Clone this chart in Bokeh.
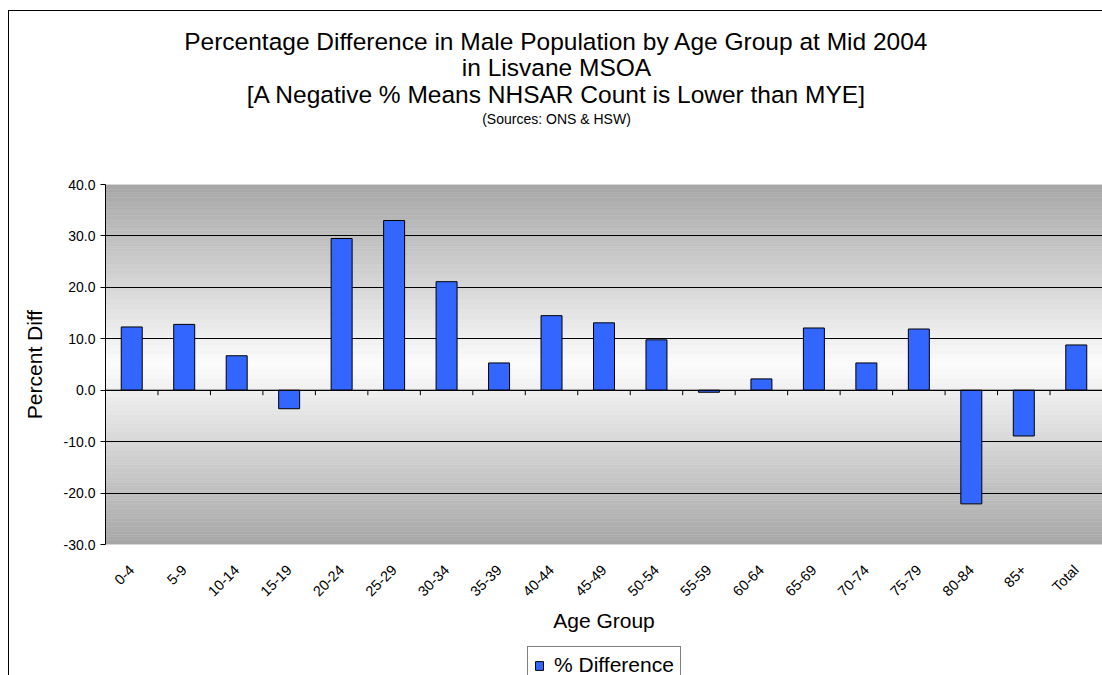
import math
import numpy as np
from bokeh.plotting import figure
from bokeh.layouts import column
from bokeh.models import (ColumnDataSource, FactorRange, Range1d, FixedTicker,
                          NumeralTickFormatter, Label, Legend, LegendItem, Span)
from bokeh.embed import file_html
from bokeh.resources import INLINE

# ---------------- data ----------------
age_groups = ["0-4", "5-9", "10-14", "15-19", "20-24", "25-29", "30-34", "35-39",
              "40-44", "45-49", "50-54", "55-59", "60-64", "65-69", "70-74", "75-79",
              "80-84", "85+", "Total"]
pct_diff = [12.3, 12.8, 6.7, -3.6, 29.5, 33.0, 21.1, 5.3, 14.5, 13.1, 9.8, -0.4,
            2.2, 12.1, 5.3, 11.9, -22.1, -8.9, 8.8]
y_ticks = [-30, -20, -10, 0, 10, 20, 30, 40]
title_lines = ["Percentage Difference in Male Population by Age Group at Mid 2004",
               "in Lisvane MSOA",
               "[A Negative % Means NHSAR Count is Lower than MYE]"]
source_note = "(Sources: ONS & HSW)"
series_name = "% Difference"
x_title = "Age Group"
y_title = "Percent Diff"

FONT = "Liberation Sans"
Y_MIN, Y_MAX = -30, 40
W = 1093
LEFT = 96          # left border of every block (frames are aligned in the column)
H_TITLE, H_MAIN, H_LEG = 119, 513, 32

src = ColumnDataSource(dict(x=age_groups, y=pct_diff))

# ---------------- title block ----------------
# x range in canvas pixels (frame spans LEFT..W because the column aligns frames)
tf = figure(width=W, height=H_TITLE, x_range=Range1d(LEFT, W), y_range=Range1d(H_TITLE, 0),
            output_backend="svg", toolbar_location=None,
            x_axis_location=None, y_axis_location=None,
            min_border=0, min_border_left=LEFT, outline_line_color=None)
tf.grid.visible = False
tf.background_fill_color = "white"
tf.border_fill_color = "white"
CENTER_X = 547
title_rows = [30, 56, 83]
for line, row in zip(title_lines, title_rows):
    tf.add_layout(Label(x=CENTER_X, y=row, text=line, text_align="center",
                        text_baseline="middle", text_font=FONT,
                        text_font_size="24.5px", text_color="black"))
tf.add_layout(Label(x=CENTER_X, y=107, text=source_note, text_align="center",
                    text_baseline="middle", text_font=FONT,
                    text_font_size="14px", text_color="black"))

# ---------------- main chart ----------------
p = figure(width=W, height=H_MAIN,
           x_range=FactorRange(factors=age_groups, range_padding=0),
           y_range=Range1d(Y_MIN, Y_MAX),
           output_backend="svg", toolbar_location=None,
           min_border_left=LEFT, min_border_right=0,
           min_border_top=54, min_border_bottom=99)
p.outline_line_color = None
p.background_fill_color = "white"
p.border_fill_color = "white"

# gradient plot-area background (grey -> white -> grey)
edges = np.linspace(Y_MIN, Y_MAX, 141)
mid = (Y_MIN + Y_MAX) / 2.0
half = (Y_MAX - Y_MIN) / 2.0
cols = []
for a, b in zip(edges[:-1], edges[1:]):
    d = abs((a + b) / 2.0 - mid) / half
    v = int(round(252 - (252 - 166) * d))
    cols.append("#%02x%02x%02x" % (v, v, v))
bg = ColumnDataSource(dict(bottom=edges[:-1], top=edges[1:], color=cols))
p.quad(left=0, right=len(age_groups), bottom="bottom", top="top",
       fill_color="color", line_color="color", line_width=0.5, source=bg,
       level="image")

# grid lines
p.xgrid.grid_line_color = None
p.ygrid.ticker = FixedTicker(ticks=y_ticks)
p.ygrid.grid_line_color = "black"
p.ygrid.grid_line_width = 1

# bars
bars = p.vbar(x="x", top="y", bottom=0, width=0.4, source=src,
              fill_color="#3366ff", line_color="black", line_width=1)

# zero axis line and category boundary ticks
p.add_layout(Span(location=0, dimension="width", line_color="black", line_width=1))
bound = ColumnDataSource(dict(x=list(range(1, len(age_groups))),
                              y=[0] * (len(age_groups) - 1)))
p.ray(x="x", y="y", length=5, length_units="screen", angle=-math.pi / 2,
      line_color="black", line_width=1, source=bound)

# y axis
ya = p.yaxis[0]
ya.ticker = FixedTicker(ticks=y_ticks)
ya.formatter = NumeralTickFormatter(format="0.0")
ya.axis_line_color = "black"
ya.major_tick_line_color = "black"
ya.major_tick_out = 5
ya.major_tick_in = 0
ya.minor_tick_line_color = None
ya.major_label_standoff = 5
ya.major_label_text_font = FONT
ya.major_label_text_font_size = "14px"
ya.major_label_text_color = "black"
ya.axis_label = y_title
ya.axis_label_text_font = FONT
ya.axis_label_text_font_size = "21px"
ya.axis_label_text_font_style = "normal"
ya.axis_label_text_color = "black"
ya.axis_label_standoff = 15

# x axis
xa = p.xaxis[0]
xa.axis_line_color = None
xa.major_tick_line_color = None
xa.minor_tick_line_color = None
xa.major_label_orientation = math.pi / 4
xa.major_label_standoff = 17
xa.major_label_text_font = FONT
xa.major_label_text_font_size = "14.5px"
xa.major_label_text_color = "black"
xa.axis_label = x_title
xa.axis_label_text_font = FONT
xa.axis_label_text_font_size = "21px"
xa.axis_label_text_font_style = "normal"
xa.axis_label_text_color = "black"
xa.axis_label_standoff = 1

# ---------------- legend block ----------------
# same bars drawn into an empty (off-scale) view, only used as the legend's swatch
lf = figure(width=W, height=H_LEG,
            x_range=FactorRange(factors=age_groups, range_padding=0),
            y_range=Range1d(1000, 1001),
            output_backend="svg", toolbar_location=None,
            x_axis_location=None, y_axis_location=None,
            min_border=0, min_border_left=LEFT, outline_line_color=None)
lf.grid.visible = False
lf.background_fill_color = "white"
lf.border_fill_color = "white"
swatch = lf.vbar(x="x", top="y", bottom=0, width=0.4, source=src,
                 fill_color="#3366ff", line_color="black", line_width=1)
legend = Legend(items=[LegendItem(label=series_name, renderers=[swatch])],
                location=(527 - 9 - LEFT, -9), orientation="horizontal",
                border_line_color="black", border_line_width=1,
                background_fill_color="white", background_fill_alpha=1,
                label_text_font=FONT, label_text_font_size="21px",
                label_text_color="black", label_height=21,
                glyph_width=10, glyph_height=11, label_standoff=10,
                padding=6, margin=0, spacing=0)
lf.add_layout(legend)

layout = column(tf, p, lf, spacing=0,
                styles={"border-left": "1px solid #000",
                        "border-top": "1px solid #000",
                        "margin-left": "8px", "margin-top": "10px"})

open("out.html", "w").write(file_html(layout, INLINE))
